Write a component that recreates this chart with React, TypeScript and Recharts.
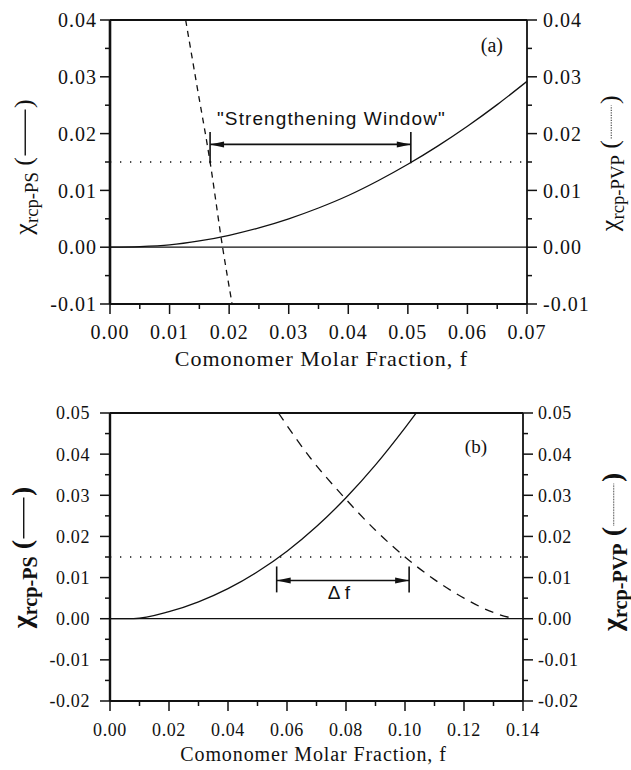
import React from 'react';
import { LineChart, Line, XAxis, YAxis, ReferenceLine } from 'recharts';

/* ---------------------------------------
   PANEL (a) DATA
---------------------------------------- */
const fPsA = [0, 0.005, 0.01, 0.015, 0.02, 0.025, 0.03, 0.035, 0.04, 0.045, 0.05, 0.055, 0.06, 0.065, 0.07];
const psA = [0, 0.0001, 0.0004, 0.0011, 0.0021, 0.0034, 0.005, 0.0069, 0.0091, 0.0117, 0.0146, 0.0178, 0.0213, 0.0251, 0.0292];
const fPvpA = [0.0127, 0.0145, 0.0168, 0.0189, 0.0205];
const pvpA = [0.04, 0.029, 0.015, 0.0, -0.01];

const xMajorA = [0, 0.01, 0.02, 0.03, 0.04, 0.05, 0.06, 0.07];
const xMinorA = [0.005, 0.015, 0.025, 0.035, 0.045, 0.055, 0.065];
const yMajorA = [-0.01, 0, 0.01, 0.02, 0.03, 0.04];
const yMinorA = [-0.005, 0.005, 0.015, 0.025, 0.035];

const thresholdA = 0.015;
const windowA = [0.0168, 0.0505]; // "Strengthening Window" ends
const windowYA = 0.0181;
const windowBarA = [0.0148, 0.0203];

/* ---------------------------------------
   PANEL (b) DATA
---------------------------------------- */
const fPsB = [0, 0.008, 0.02, 0.03, 0.04, 0.05, 0.06, 0.07, 0.08, 0.09, 0.1, 0.104];
const psB = [0, 0, 0.0017, 0.0041, 0.0073, 0.0114, 0.0164, 0.0224, 0.0294, 0.0374, 0.0464, 0.0502];
const fPvpB = [0.0571, 0.068, 0.079, 0.09, 0.1, 0.11, 0.12, 0.13, 0.137];
const pvpB = [0.05, 0.039, 0.0298, 0.0215, 0.015, 0.0095, 0.005, 0.0015, 0];

const xMajorB = [0, 0.02, 0.04, 0.06, 0.08, 0.1, 0.12, 0.14];
const xMinorB = [0.01, 0.03, 0.05, 0.07, 0.09, 0.11, 0.13];
const yMajorB = [-0.02, -0.01, 0, 0.01, 0.02, 0.03, 0.04, 0.05];
const yMinorB = [-0.015, -0.005, 0.005, 0.015, 0.025, 0.035, 0.045];

const thresholdB = 0.015;
const deltaB = [0.0565, 0.1014]; // Δf ends
const deltaYB = 0.0093;
const deltaBarB = [0.0064, 0.0127];

/* ---------------------------------------
   HELPERS
---------------------------------------- */
const SERIF = "'Liberation Serif', 'Times New Roman', serif";
const SANS = "'Liberation Sans', Arial, sans-serif";
const INK = '#111';

const toPts = (fs: number[], ys: number[]) => fs.map((f, i) => ({ f, y: ys[i] }));
const merge = (a: number[], b: number[]) => [...a, ...b].sort((p, q) => p - q);

function makeTick(side: string, majors: number[], fontSize: number, spacing: number, size: number, margin: number) {
  return (props: any) => {
    const { x, y, payload } = props;
    const v = payload.value;
    const major = majors.includes(v);
    const len = major ? size : size * 0.5;
    const txt = major ? (
      <text
        x={x}
        y={y}
        dy={side === 'bottom' ? '0.71em' : '0.355em'}
        textAnchor={side === 'bottom' ? 'middle' : side === 'left' ? 'end' : 'start'}
        fontSize={fontSize}
        letterSpacing={spacing}
        fontFamily={SERIF}
        fill={INK}
      >
        {v.toFixed(2)}
      </text>
    ) : null;
    if (side === 'bottom') {
      const ay = y - size - margin;
      return (
        <g>
          <line x1={x} x2={x} y1={ay} y2={ay + len} stroke={INK} strokeWidth={1.5} />
          {txt}
        </g>
      );
    }
    if (side === 'left') {
      const ax = x + size + margin;
      return (
        <g>
          <line x1={ax - len} x2={ax} y1={y} y2={y} stroke={INK} strokeWidth={1.5} />
          {txt}
        </g>
      );
    }
    const ax = x - size - margin;
    return (
      <g>
        <line x1={ax} x2={ax + len} y1={y} y2={y} stroke={INK} strokeWidth={1.5} />
        {txt}
      </g>
    );
  };
}

// rotated axis title: χ with subscript, then "( line )"
function YTitle({ bx, ey, size, sub, lineLen, dash, bold }: any) {
  const mid = -0.26 * size;
  return (
    <g
      transform={`translate(${bx},${ey}) rotate(-90)`}
      fontFamily={SERIF}
      fill={INK}
      fontWeight={bold ? 'bold' : 'normal'}
    >
      <text x={0} y={0} textAnchor="end" fontSize={size}>
        χ
        <tspan fontSize={size * 0.72} dy={size * 0.22}>
          {sub}
        </tspan>
        <tspan dy={-size * 0.22}> (</tspan>
      </text>
      <line
        x1={1.5}
        x2={1.5 + lineLen}
        y1={mid}
        y2={mid}
        stroke={INK}
        strokeWidth={dash ? 0.9 : 1.4}
        strokeDasharray={dash}
      />
      <text x={lineLen + 3} y={0} fontSize={size}>
        )
      </text>
    </g>
  );
}

// horizontal double arrow between two bars
const arrowShape = (props: any) => {
  const { x1, y1, x2, y2 } = props;
  const l = Math.min(x1, x2);
  const r = Math.max(x1, x2);
  const y = (y1 + y2) / 2;
  const hl = 14;
  const hw = 3;
  return (
    <g>
      <line x1={l} x2={r} y1={y} y2={y} stroke={INK} strokeWidth={1.6} />
      <polygon points={`${l},${y} ${l + hl},${y - hw} ${l + hl},${y + hw}`} fill={INK} />
      <polygon points={`${r},${y} ${r - hl},${y - hw} ${r - hl},${y + hw}`} fill={INK} />
    </g>
  );
};

/* ---------------------------------------
   MAIN COMPONENT
---------------------------------------- */
export default function App() {
  const psDataA = toPts(fPsA, psA);
  const pvpDataA = toPts(fPvpA, pvpA);
  const psDataB = toPts(fPsB, psB);
  const pvpDataB = toPts(fPvpB, pvpB);

  return (
    <div style={{ position: 'absolute', left: 0, top: 0, width: 631, height: 770, background: '#fff' }}>
      {/* Panel (a) */}
      <div style={{ position: 'absolute', left: 0, top: 0 }}>
        <LineChart width={631} height={380} margin={{ top: 20, right: 0, bottom: 0, left: 0 }}>
          <XAxis
            dataKey="f"
            type="number"
            domain={[0, 0.07]}
            ticks={merge(xMajorA, xMinorA)}
            interval={0}
            height={76}
            tickSize={10}
            tickMargin={11}
            tickLine={false}
            axisLine={{ stroke: INK, strokeWidth: 2 }}
            tick={makeTick('bottom', xMajorA, 20, 1, 10, 11)}
            allowDataOverflow
            label={(p: any) => {
              const vb = p.viewBox || { x: 110, y: 304, width: 417 };
              return (
                <text
                  x={vb.x + vb.width / 2 + 3}
                  y={vb.y + 62}
                  textAnchor="middle"
                  fontSize={22}
                  letterSpacing={1}
                  fontFamily={SERIF}
                  fill={INK}
                >
                  Comonomer Molar Fraction, f
                </text>
              );
            }}
          />
          <YAxis
            yAxisId="left"
            type="number"
            domain={[-0.01, 0.04]}
            ticks={merge(yMajorA, yMinorA)}
            interval={0}
            width={110}
            tickSize={10}
            tickMargin={3}
            tickLine={false}
            axisLine={{ stroke: INK, strokeWidth: 2.6 }}
            tick={makeTick('left', yMajorA, 20, 1, 10, 3)}
            allowDataOverflow
            label={(p: any) => {
              const vb = p.viewBox || { x: 0, y: 20 };
              return <YTitle bx={vb.x + 32} ey={vb.y + 137} size={26} sub="rcp-PS" lineLen={46} />;
            }}
          />
          <YAxis
            yAxisId="right"
            orientation="right"
            type="number"
            domain={[-0.01, 0.04]}
            ticks={merge(yMajorA, yMinorA)}
            interval={0}
            width={104}
            tickSize={10}
            tickMargin={6}
            tickLine={false}
            axisLine={{ stroke: INK, strokeWidth: 1.8 }}
            tick={makeTick('right', yMajorA, 20, 1, 10, 6)}
            allowDataOverflow
            label={(p: any) => {
              const vb = p.viewBox || { x: 527, y: 20 };
              return (
                <YTitle bx={vb.x + 91} ey={vb.y + 120} size={26} sub="rcp-PVP" lineLen={33} dash="1.2 1.3" />
              );
            }}
          />

          {/* frame top + label */}
          <ReferenceLine
            yAxisId="left"
            y={0.04}
            stroke={INK}
            strokeWidth={1.8}
            label={(p: any) => {
              const vb = p.viewBox;
              return (
                <text x={vb.x + vb.width - 24} y={vb.y + 32} textAnchor="end" fontSize={20} fontFamily={SERIF} fill={INK}>
                  (a)
                </text>
              );
            }}
          />
          <ReferenceLine yAxisId="left" y={0} stroke={INK} strokeWidth={1.3} />
          <ReferenceLine yAxisId="left" y={thresholdA} stroke={INK} strokeWidth={1.3} strokeDasharray="1.3 8.7" />

          {/* strengthening window */}
          <ReferenceLine
            yAxisId="left"
            segment={[
              { x: windowA[0], y: windowYA },
              { x: windowA[1], y: windowYA },
            ]}
            shape={arrowShape}
            label={(p: any) => {
              const vb = p.viewBox;
              return (
                <text
                  x={vb.x + vb.width / 2 + 21}
                  y={vb.y - 19}
                  textAnchor="middle"
                  fontSize={19}
                  letterSpacing={1.1}
                  fontFamily={SANS}
                  fill={INK}
                >
                  "Strengthening Window"
                </text>
              );
            }}
          />
          <ReferenceLine
            yAxisId="left"
            segment={[
              { x: windowA[0], y: windowBarA[0] },
              { x: windowA[0], y: windowBarA[1] },
            ]}
            stroke={INK}
            strokeWidth={1.6}
          />
          <ReferenceLine
            yAxisId="left"
            segment={[
              { x: windowA[1], y: windowBarA[0] },
              { x: windowA[1], y: windowBarA[1] },
            ]}
            stroke={INK}
            strokeWidth={1.6}
          />

          <Line
            data={psDataA}
            dataKey="y"
            yAxisId="left"
            type="monotone"
            stroke={INK}
            strokeWidth={1.3}
            dot={false}
            isAnimationActive={false}
          />
          <Line
            data={pvpDataA}
            dataKey="y"
            yAxisId="right"
            type="monotone"
            stroke={INK}
            strokeWidth={1.3}
            strokeDasharray="6 5"
            dot={false}
            isAnimationActive={false}
          />
        </LineChart>
      </div>

      {/* Panel (b) */}
      <div style={{ position: 'absolute', left: 0, top: 380 }}>
        <LineChart width={631} height={390} margin={{ top: 33, right: 0, bottom: 0, left: 0 }}>
          <XAxis
            dataKey="f"
            type="number"
            domain={[0, 0.14]}
            ticks={merge(xMajorB, xMinorB)}
            interval={0}
            height={69}
            tickSize={10}
            tickMargin={12.5}
            tickLine={false}
            axisLine={{ stroke: INK, strokeWidth: 2 }}
            tick={makeTick('bottom', xMajorB, 18, 0.6, 10, 12.5)}
            allowDataOverflow
            label={(p: any) => {
              const vb = p.viewBox || { x: 110, y: 321, width: 413 };
              return (
                <text
                  x={vb.x + vb.width / 2 - 3}
                  y={vb.y + 60}
                  textAnchor="middle"
                  fontSize={20}
                  letterSpacing={0.9}
                  fontFamily={SERIF}
                  fill={INK}
                >
                  Comonomer Molar Fraction, f
                </text>
              );
            }}
          />
          <YAxis
            yAxisId="left"
            type="number"
            domain={[-0.02, 0.05]}
            ticks={merge(yMajorB, yMinorB)}
            interval={0}
            width={110}
            tickSize={10}
            tickMargin={10}
            tickLine={false}
            axisLine={{ stroke: INK, strokeWidth: 2.4 }}
            tick={makeTick('left', yMajorB, 18, 0.6, 10, 10)}
            allowDataOverflow
            label={(p: any) => {
              const vb = p.viewBox || { x: 0, y: 33 };
              return <YTitle bx={vb.x + 31} ey={vb.y + 127} size={28} sub="rcp-PS" lineLen={41} bold />;
            }}
          />
          <YAxis
            yAxisId="right"
            orientation="right"
            type="number"
            domain={[-0.02, 0.05]}
            ticks={merge(yMajorB, yMinorB)}
            interval={0}
            width={108}
            tickSize={10}
            tickMargin={5}
            tickLine={false}
            axisLine={{ stroke: INK, strokeWidth: 1.8 }}
            tick={makeTick('right', yMajorB, 18, 0.6, 10, 5)}
            allowDataOverflow
            label={(p: any) => {
              const vb = p.viewBox || { x: 523, y: 33 };
              return (
                <YTitle bx={vb.x + 98} ey={vb.y + 114} size={28} sub="rcp-PVP" lineLen={42} dash="0.8 0.8" bold />
              );
            }}
          />

          {/* frame top + label */}
          <ReferenceLine
            yAxisId="left"
            y={0.05}
            stroke={INK}
            strokeWidth={1.8}
            label={(p: any) => {
              const vb = p.viewBox;
              return (
                <text x={vb.x + vb.width - 36} y={vb.y + 40} textAnchor="end" fontSize={19} fontFamily={SERIF} fill={INK}>
                  (b)
                </text>
              );
            }}
          />
          <ReferenceLine yAxisId="left" y={0} stroke={INK} strokeWidth={1.3} />
          <ReferenceLine yAxisId="left" y={thresholdB} stroke={INK} strokeWidth={1.3} strokeDasharray="1.3 8.7" />

          {/* Δf window */}
          <ReferenceLine
            yAxisId="left"
            segment={[
              { x: deltaB[0], y: deltaYB },
              { x: deltaB[1], y: deltaYB },
            ]}
            shape={arrowShape}
            label={(p: any) => {
              const vb = p.viewBox;
              return (
                <text
                  x={vb.x + vb.width / 2 - 4}
                  y={vb.y + 19}
                  textAnchor="middle"
                  fontSize={19}
                  fontFamily={SANS}
                  fill={INK}
                >
                  Δ f
                </text>
              );
            }}
          />
          <ReferenceLine
            yAxisId="left"
            segment={[
              { x: deltaB[0], y: deltaBarB[0] },
              { x: deltaB[0], y: deltaBarB[1] },
            ]}
            stroke={INK}
            strokeWidth={1.6}
          />
          <ReferenceLine
            yAxisId="left"
            segment={[
              { x: deltaB[1], y: deltaBarB[0] },
              { x: deltaB[1], y: deltaBarB[1] },
            ]}
            stroke={INK}
            strokeWidth={1.6}
          />

          <Line
            data={psDataB}
            dataKey="y"
            yAxisId="left"
            type="monotone"
            stroke={INK}
            strokeWidth={1.3}
            dot={false}
            isAnimationActive={false}
          />
          <Line
            data={pvpDataB}
            dataKey="y"
            yAxisId="right"
            type="monotone"
            stroke={INK}
            strokeWidth={1.3}
            strokeDasharray="9 7"
            dot={false}
            isAnimationActive={false}
          />
        </LineChart>
      </div>
    </div>
  );
}
